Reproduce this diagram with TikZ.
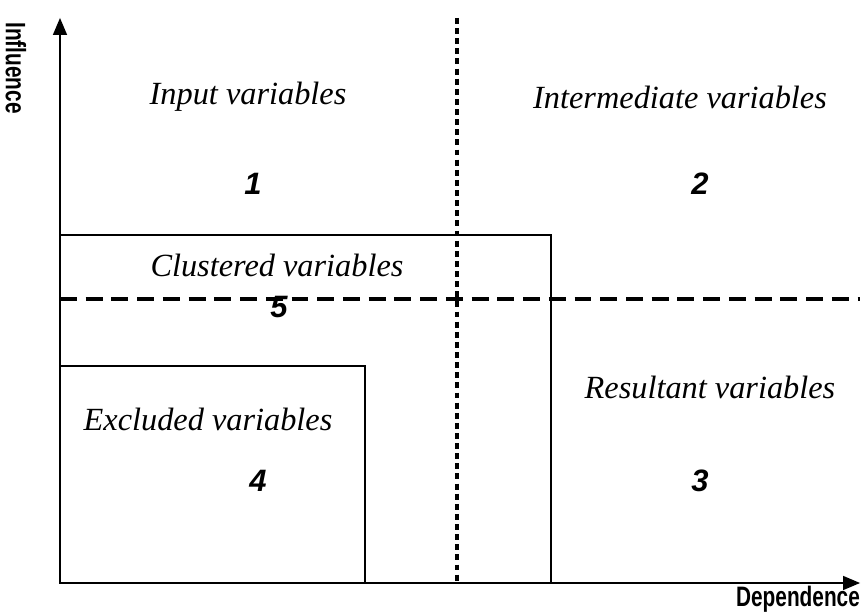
\documentclass[tikz,border=0pt]{standalone}
\usepackage{fontspec}
\setmainfont{Liberation Serif}
\setsansfont{Liberation Sans}
\newfontfamily\narrowsans[FakeStretch=0.74]{Liberation Sans}
\usetikzlibrary{arrows}
\usetikzlibrary{positioning}

\tikzset{
  zonelabel/.style={font=\fontsize{23}{27}\selectfont\itshape},
  zonenum/.style={font=\fontsize{22}{26}\selectfont\sffamily\bfseries\itshape},
  axislabel/.style={font=\fontsize{20}{24}\selectfont\narrowsans\bfseries,inner sep=0pt},
}

\begin{document}
\begin{tikzpicture}[line cap=butt,line join=miter,>=triangle 45,x=1cm,y=1cm]
\useasboundingbox (0,0) rectangle (21.6,15.3);
% axes
\coordinate (origin) at (1.5,0.725);
\coordinate (ytop) at (1.5,14.85);
\coordinate (xend) at (21.5,0.725);
\draw [line width=1.8pt,->] (origin)-- (ytop);
\draw [line width=1.8pt,->] (origin)-- (xend);
\node[axislabel,rotate=-90] (infl) at (0.4,13.6) {Influence};
\node[axislabel] (dep) at (19.95,0.33) {Dependence};
% dashed split lines
\coordinate (vtop) at (11.425,14.85);
\coordinate (vbot) at (11.425,0.725);
\coordinate (hleft) at (1.5,7.825);
\coordinate (hright) at (21.5,7.825);
\draw [line width=2.2pt,dash pattern=on 4.2pt off 3pt] (vtop)-- (vbot);
\draw [line width=2.2pt,dash pattern=on 12pt off 6.3pt] (hleft)-- (hright);
% clustered and excluded boxes
\draw [line width=1.4pt] (origin) rectangle (13.775,9.425);
\draw [line width=1.4pt] (origin) rectangle (9.125,6.15);
% zone texts
\node[zonelabel] (input) at (6.2,12.875) {Input variables};
\node[zonelabel] (inter) at (17.0,12.875) {Intermediate variables};
\node[zonenum] (one) at (6.325,10.7) {1};
\node[zonenum] (two) at (17.5,10.7) {2};
\node[zonelabel] (clust) at (6.925,8.675) {Clustered variables};
\node[zonenum] (five) at (6.975,7.625) {5};
\node[zonelabel] (result) at (17.75,5.625) {Resultant variables};
\node[zonelabel] (excl) at (5.2,4.825) {Excluded variables};
\node[zonenum] (four) at (6.45,3.275) {4};
\node[zonenum] (three) at (17.5,3.275) {3};
\end{tikzpicture}
\end{document}
